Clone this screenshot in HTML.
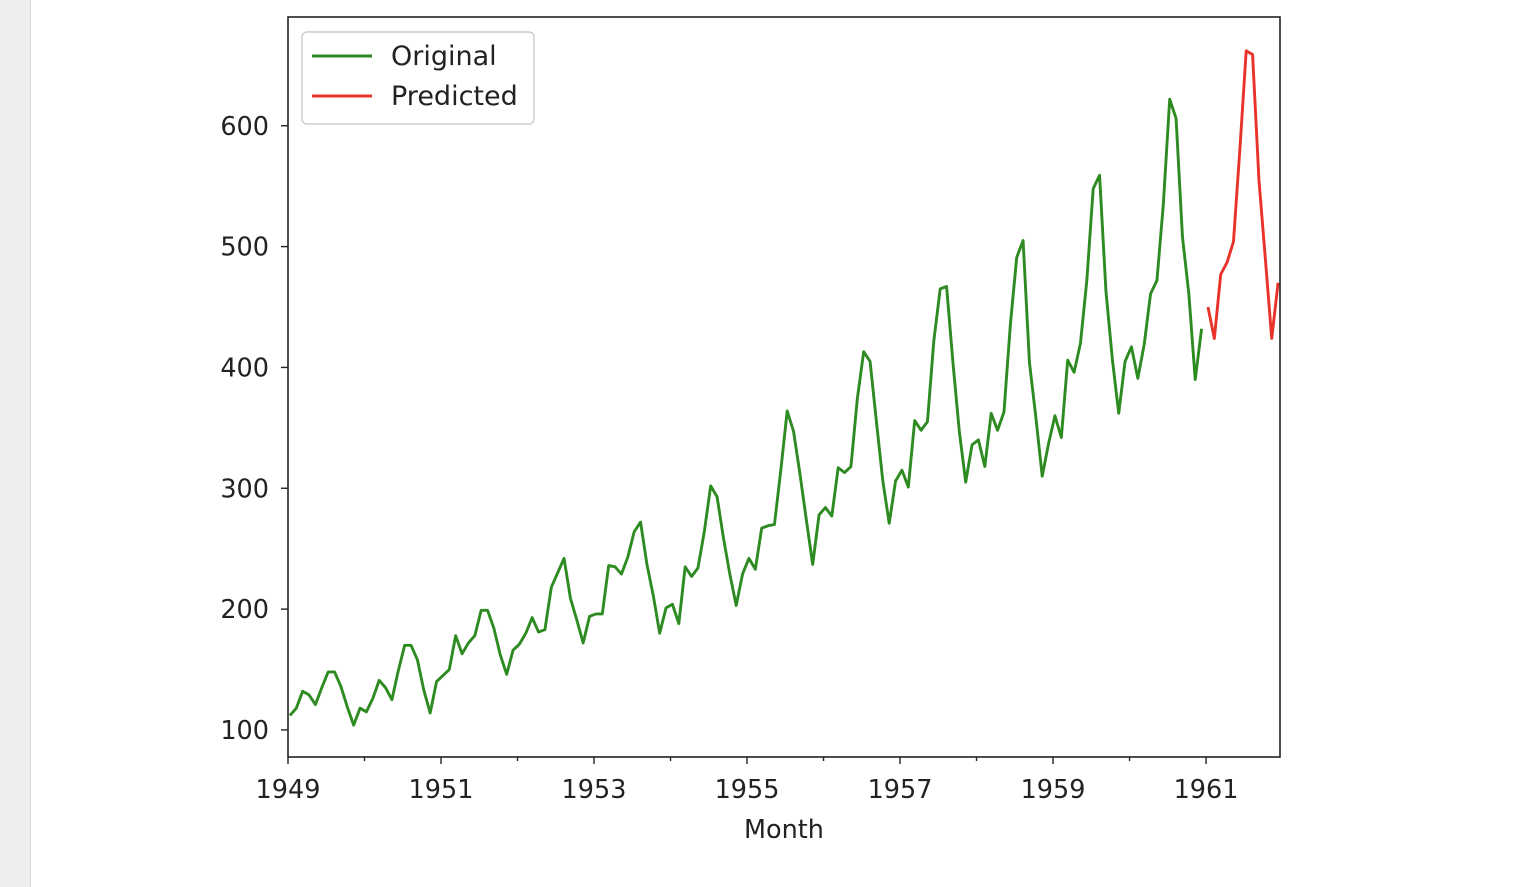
<!DOCTYPE html>
<html><head><meta charset="utf-8"><style>
body{margin:0;background:#fff;width:1515px;height:887px;overflow:hidden;font-family:"DejaVu Sans","Liberation Sans",sans-serif}
</style></head><body>
<div style="position:absolute;left:0;top:0;width:30px;height:887px;background:#eeeeee;border-right:1px solid #d8d8d8"></div>
<svg id="chart" width="1515" height="887" style="position:absolute;left:0;top:0"></svg>
<script>
const original = [112,118,132,129,121,135,148,148,136,119,104,118,
115,126,141,135,125,149,170,170,158,133,114,140,
145,150,178,163,172,178,199,199,184,162,146,166,
171,180,193,181,183,218,230,242,209,191,172,194,
196,196,236,235,229,243,264,272,237,211,180,201,
204,188,235,227,234,264,302,293,259,229,203,229,
242,233,267,269,270,315,364,347,312,274,237,278,
284,277,317,313,318,374,413,405,355,306,271,306,
315,301,356,348,355,422,465,467,404,347,305,336,
340,318,362,348,363,435,491,505,404,359,310,337,
360,342,406,396,420,472,548,559,463,407,362,405,
417,391,419,461,472,535,622,606,508,461,390,432];
const predicted = [450,424,477,487,504,580,662,659,555,490,424,470];
const yTicks = [100,200,300,400,500,600];
const xTickYears = [1949,1951,1953,1955,1957,1959,1961];
const L=288,R=1280,T=17,B=757, xMin=0,xMax=155.6, yMin=77.6,yMax=690;
const xs=m=>L+(m-xMin)/(xMax-xMin)*(R-L);
const ys=v=>B-(v-yMin)/(yMax-yMin)*(B-T);
const NS="http://www.w3.org/2000/svg", svg=document.getElementById('chart');
function mk(t,a){const e=document.createElementNS(NS,t);for(const k in a)e.setAttribute(k,a[k]);svg.appendChild(e);return e;}
function line(arr,off,col,name){
  const p=mk('polyline',{points:arr.map((v,i)=>xs(off+i)+','+ys(v)).join(' '),fill:'none',stroke:col,'stroke-width':2.9,'stroke-linejoin':'round'});
  
  
}
line(original,0.3,'#2e8b22','original-series');
line(predicted,144.3,'#e8332a','predicted-series');
const fr=mk('rect',{x:L,y:T,width:R-L,height:B-T,fill:'none',stroke:'#222','stroke-width':1.6});


yTicks.forEach(v=>{const y=ys(v);mk('line',{x1:L-7,x2:L,y1:y,y2:y,stroke:'#222','stroke-width':1.4});
 const t=mk('text',{x:L-19,y:y+9,'text-anchor':'end','font-size':25.5,fill:'#222'});t.textContent=v;
 
 });
for(let yr=1949;yr<=1961;yr++){const x=xs((yr-1949)*12);const major=xTickYears.includes(yr);
 mk('line',{x1:x,x2:x,y1:B,y2:B+(major?7:4),stroke:'#222','stroke-width':1.4});
 if(major){const t=mk('text',{x:x,y:B+41,'text-anchor':'middle','font-size':25.5,fill:'#222'});t.textContent=yr;
 
 }}
const xt=mk('text',{x:784,y:838,'text-anchor':'middle','font-size':25.5,fill:'#222'});xt.textContent='Month';


const lg=mk('rect',{x:302,y:32,width:232,height:92,rx:5,fill:'#fff',stroke:'#ccc','stroke-width':1.4});


[['Original','#2e8b22',56],['Predicted','#e8332a',96]].forEach(([n,c,y])=>{
 mk('line',{x1:312,x2:372,y1:y,y2:y,stroke:c,'stroke-width':2.9});
 const t=mk('text',{x:391,y:y+9,'font-size':27,fill:'#222'});t.textContent=n;
 
 });
</script>
</body></html>
